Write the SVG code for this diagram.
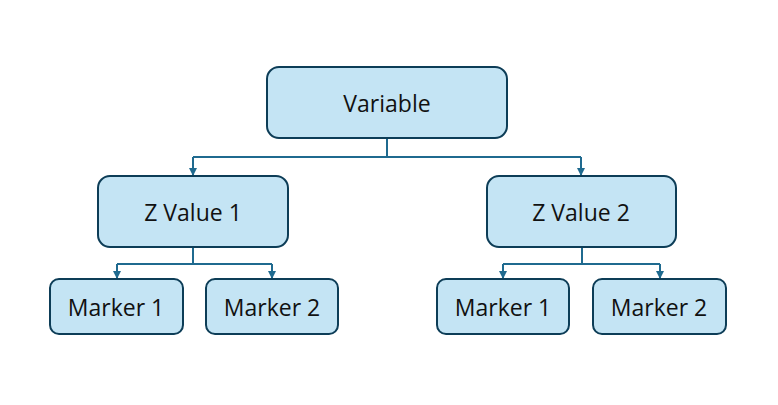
<svg xmlns="http://www.w3.org/2000/svg" width="778" height="405" viewBox="0 0 778 405">
  <defs>
    <marker id="arrow" viewBox="0 0 10 10" refX="10" refY="5" markerWidth="4" markerHeight="4" orient="auto" markerUnits="strokeWidth">
      <path d="M0,0 L10,5 L0,10 z" fill="#1f6a8f"/>
    </marker>
  </defs>
  <style>
    .box { fill: #c4e4f4; stroke: #0d3d57; stroke-width: 2; }
    .lbl { font-family: "Open Sans", "Liberation Sans", sans-serif; font-size: 23px; fill: #111; text-anchor: middle; dominant-baseline: central; }
    .conn { fill: none; stroke: #1f6a8f; stroke-width: 2; }
    .arr { marker-end: url(#arrow); }
  </style>
  <rect width="778" height="405" fill="#ffffff"/>

  <g id="connectors">
    <path class="conn" d="M387,139 V157 M193,157 H581"/>
    <path class="conn arr" d="M193,157 V176"/>
    <path class="conn arr" d="M581,157 V176"/>
    <path class="conn" d="M193,248 V264 M117,264 H272"/>
    <path class="conn arr" d="M117,264 V279"/>
    <path class="conn arr" d="M272,264 V279"/>
    <path class="conn" d="M582,248 V264 M503,264 H660"/>
    <path class="conn arr" d="M503,264 V279"/>
    <path class="conn arr" d="M660,264 V279"/>
  </g>

  <g id="variable">
    <rect class="box" x="267" y="67" width="240" height="71" rx="12"/>
    <text class="lbl" x="387" y="103">Variable</text>
  </g>
  <g id="zvalue1">
    <rect class="box" x="98" y="176" width="190" height="71" rx="12"/>
    <text class="lbl" x="193" y="212">Z Value 1</text>
  </g>
  <g id="zvalue2">
    <rect class="box" x="487" y="176" width="189" height="71" rx="12"/>
    <text class="lbl" x="581" y="212">Z Value 2</text>
  </g>
  <g id="z1-marker1">
    <rect class="box" x="50" y="279" width="133" height="55" rx="9"/>
    <text class="lbl" x="116" y="307">Marker 1</text>
  </g>
  <g id="z1-marker2">
    <rect class="box" x="206" y="279" width="132" height="55" rx="9"/>
    <text class="lbl" x="272" y="307">Marker 2</text>
  </g>
  <g id="z2-marker1">
    <rect class="box" x="437" y="279" width="132" height="55" rx="9"/>
    <text class="lbl" x="503" y="307">Marker 1</text>
  </g>
  <g id="z2-marker2">
    <rect class="box" x="593" y="279" width="133" height="55" rx="9"/>
    <text class="lbl" x="659" y="307">Marker 2</text>
  </g>
</svg>
